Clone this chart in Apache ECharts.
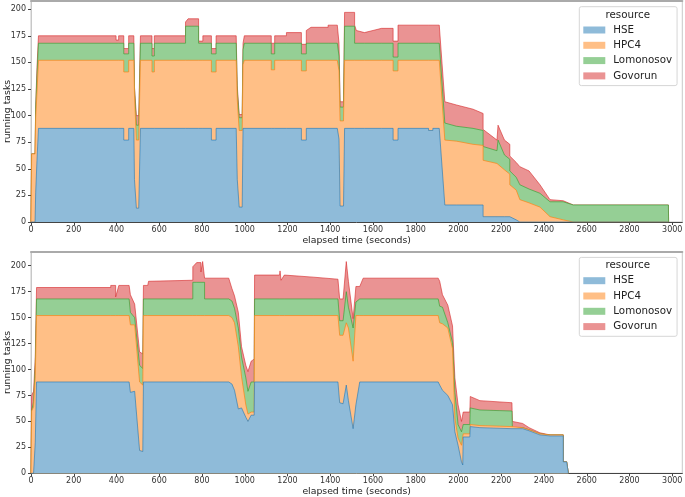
<!DOCTYPE html>
<html><head><meta charset="utf-8">
<script src="https://cdn.jsdelivr.net/npm/echarts@6/dist/echarts.min.js"></script>
<style>html,body{margin:0;padding:0;background:#fff}#c{width:685px;height:497px}</style>
</head><body><div id="c"></div>
<script>
const resources = ['HSE', 'HPC4', 'Lomonosov', 'Govorun'];
const legendTitle = 'resource';
const xLabel = 'elapsed time (seconds)';
const yLabel = 'running tasks';
const xInterval = 200;
const yInterval = 25;

// ---- upper chart (running tasks per resource) ----
const topTime = [0,3,19,22,28,35,398,398,410,410,
  434,434,457,457,481,484,491,493,504,512,
  566,566,577,577,723,723,735,784,784,804,
  804,844,844,866,866,960,965,972,974,988,
  992,998,1124,1124,1140,1140,1195,1195,1265,1265,
  1288,1288,1310,1390,1390,1433,1441,1446,1462,1467,
  1514,1514,1522,1560,1600,1640,1694,1694,1717,1717,
  1860,1860,1880,1880,1910,1936,1990,2068,2115,2115,
  2180,2185,2215,2240,2240,2270,2287,2330,2381,2428,
  2490,2537,2982,2983];
const topHSE = [0,0,0,28,58,88,88,88,88,88,
  88,77,77,88,88,40,40,13,13,88,
  88,88,88,88,88,88,88,88,88,88,
  88,88,77,77,88,88,40,40,14,14,
  88,88,88,88,88,88,88,88,88,77,
  77,88,88,88,88,88,78,15,15,88,
  88,88,88,88,88,88,88,77,77,88,
  88,86,86,88,88,16,16,16,16,5,
  5,5,5,5,5,2,0,0,0,0,
  0,0,0,0];
const topHPC4 = [0,64,64,70,64,64,64,64,64,64,
  64,64,64,64,64,80,80,64,64,64,
  64,53,53,64,64,64,64,64,64,64,
  64,64,64,64,64,64,75,75,72,72,
  60,64,64,55,55,64,64,64,64,65,
  65,64,64,64,64,64,64,80,80,64,
  64,64,64,64,64,64,64,65,65,64,
  64,66,66,64,64,61,60,57,56,53,
  50,50,44,40,30,28,21,18,14,5,
  2,0,0,0];
const topLomonosov = [0,0,0,10,16,16,16,16,16,16,
  16,17,17,16,16,6,6,14,14,16,
  16,15,15,16,16,32,32,32,16,16,
  16,16,17,17,16,16,8,8,12,12,
  14,16,16,15,15,16,16,16,16,16,
  16,16,16,16,16,16,14,13,13,32,
  32,16,16,16,16,16,16,13,13,16,
  16,16,16,16,16,16,14,15,14,13,
  12,22,14,14,13,12,14,13,13,14,
  17,16,16,0];
const topGovorun = [0,0,0,2,7,7,7,3,3,7,
  7,5,5,7,7,1,1,9,9,7,
  7,7,7,7,7,4,7,7,2,2,
  7,7,5,5,7,7,5,5,3,3,
  6,7,7,10,10,7,7,10,10,9,
  9,12,15,15,17,17,12,5,5,13,
  13,17,12,10,12,14,14,15,15,17,
  17,17,17,17,17,20,20,18,16,16,
  10,14,14,14,14,14,17,17,8,2,
  1,0,0,0];

// ---- lower chart ----
const botTime = [0,3,12,20,26,373,373,396,396,404,
  411,459,465,485,508,523,526,546,550,757,
  757,775,795,795,803,803,812,812,925,940,
  952,970,985,1005,1015,1030,1044,1046,1163,1165,
  1170,1185,1320,1436,1444,1460,1475,1485,1507,1520,
  1538,1554,1905,1912,1925,1950,1972,1983,1998,2014,
  2020,2022,2053,2055,2100,2250,2252,2300,2330,2381,
  2428,2490,2490,2506,2514];
const botHSE = [0,0,0,30,88,88,88,88,88,88,
  88,88,78,79,22,21,88,88,88,88,
  88,88,88,88,88,88,88,88,88,86,
  80,62,63,54,50,56,56,88,88,88,
  88,88,88,88,68,67,85,70,43,66,
  88,88,88,85,80,75,66,40,27,11,
  8,35,35,45,44,43,43,43,41,37,
  36,36,11,11,0];
const botHPC4 = [0,60,64,64,64,64,64,64,64,64,
  64,64,65,64,66,64,64,64,64,64,
  64,64,64,64,64,64,64,64,64,64,
  65,60,30,12,7,3,3,64,64,64,
  64,64,64,64,65,66,60,70,65,86,
  64,64,64,60,64,65,54,13,7,16,
  19,3,3,2,2,2,1,1,1,1,
  1,1,0,0,0];
const botLomonosov = [0,0,5,10,16,16,16,16,16,16,
  16,16,12,7,16,16,16,16,16,16,
  32,32,32,32,32,32,32,16,16,16,
  14,18,19,26,22,29,29,16,16,16,
  16,16,16,16,14,14,30,20,32,13,
  16,16,16,16,16,5,6,25,13,13,
  13,9,9,16,15,15,0,0,0,0,
  0,0,0,0,0];
const botGovorun = [0,15,10,8,11,11,13,13,2,2,
  13,13,17,13,13,14,13,13,17,18,
  15,19,19,10,10,20,20,20,20,12,
  12,15,10,12,19,20,22,23,23,27,
  18,23,21,19,21,21,29,25,9,15,
  12,20,20,24,12,17,16,14,19,10,
  10,12,12,11,9,8,6,4,2,1,
  0,0,0,0,0];

const fills = ['#8fbbd9', '#ffbf86', '#95cf95', '#ea9393'];
const edges = ['rgba(31,119,180,0.6)', 'rgba(255,127,14,0.65)', 'rgba(44,160,44,0.6)', 'rgba(214,39,40,0.6)'];
const FONT = 'DejaVu Sans';

const xMax = 3047;
const yMaxes = [207.7, 213.5];
const grids = [
  { left: 31, top: 1, width: 651.3, height: 221 },
  { left: 31, top: 251.7, width: 651.3, height: 221.6 }
];

// cumulative (stacked) values; areas are drawn top-down so lower layers cover upper fills
function makeSeries(idx, time, lists) {
  const cum = [];
  let run = time.map(() => 0);
  lists.forEach((vals) => {
    run = run.map((r, i) => r + vals[i]);
    cum.push(run.slice());
  });
  return resources.map((name, k) => ({
    name, type: 'line', xAxisIndex: idx, yAxisIndex: idx,
    data: time.map((t, i) => [t, cum[k][i]]), showSymbol: false, symbol: 'none',
    lineStyle: { color: edges[k], width: 1 },
    areaStyle: { color: fills[k], opacity: 1, origin: 'start' },
    itemStyle: { color: fills[k] },
    z: 10 - k,
    emphasis: { disabled: true }, animation: false
  }));
}

const xAxes = [], yAxes = [], legends = [], titles = [];
grids.forEach((g, i) => {
  xAxes.push({
    type: 'value', gridIndex: i, min: 0, max: xMax, interval: xInterval,
    axisLine: { show: true, onZero: false, lineStyle: { color: '#444', width: 1 } },
    axisTick: { show: true, length: 3, lineStyle: { color: '#444' } },
    axisLabel: { fontFamily: FONT, fontSize: 8, color: '#333', margin: 4, showMaxLabel: false,
      formatter: v => String(v) },
    splitLine: { show: false },
    name: xLabel, nameLocation: 'middle', nameGap: 14, nameMoveOverlap: false,
    nameTextStyle: { fontFamily: FONT, fontSize: 9.3, color: '#222' }
  });
  yAxes.push({
    type: 'value', gridIndex: i, min: 0, max: yMaxes[i], interval: yInterval,
    axisLine: { show: true, onZero: false, lineStyle: { color: '#c8c8c8', width: 1 } },
    axisTick: { show: true, length: 3, lineStyle: { color: '#444' } },
    axisLabel: { fontFamily: FONT, fontSize: 8, color: '#333', margin: 5, showMaxLabel: false,
      formatter: v => String(v) },
    splitLine: { show: false },
    name: yLabel, nameLocation: 'middle', nameGap: 19, nameMoveOverlap: false,
    nameTextStyle: { fontFamily: FONT, fontSize: 9.3, color: '#222' }
  });
  legends.push({
    data: resources, orient: 'vertical', left: 579.3, top: g.top + 5.7,
    itemWidth: 22, itemHeight: 7, itemGap: 3.3, icon: 'rect',
    padding: [17.3, 5, 3.7, 4],
    borderColor: '#d6d6d6', borderWidth: 1, borderRadius: 2,
    backgroundColor: 'rgba(255,255,255,0.8)',
    selectedMode: false, z: 20,
    textStyle: { fontFamily: FONT, fontSize: 10.3, color: '#222', lineHeight: 12, padding: [0, 0, 0, 3] }
  });
  titles.push({
    text: legendTitle, left: 605.5, top: g.top + 8, padding: 0, z: 21,
    textStyle: { fontFamily: FONT, fontSize: 10.3, fontWeight: 'normal', color: '#222', lineHeight: 12 }
  });
});
// top spines
grids.forEach((g, i) => {
  xAxes.push({
    type: 'value', gridIndex: i, position: 'top', min: 0, max: xMax,
    axisLine: { show: true, onZero: false, lineStyle: { color: '#aaa', width: 2 } },
    axisTick: { show: false }, axisLabel: { show: false }, splitLine: { show: false }
  });
});

const chart = echarts.init(document.getElementById('c'), null, { renderer: 'canvas' });
chart.setOption({
  animation: false,
  backgroundColor: '#fff',
  title: titles,
  legend: legends,
  grid: grids.map(g => Object.assign({ show: true, borderColor: '#c8c8c8', borderWidth: 1,
    backgroundColor: 'transparent', containLabel: false, outerBoundsMode: 'none' }, g)),
  xAxis: xAxes,
  yAxis: yAxes,
  series: makeSeries(0, topTime, [topHSE, topHPC4, topLomonosov, topGovorun])
    .concat(makeSeries(1, botTime, [botHSE, botHPC4, botLomonosov, botGovorun]))
});
</script>
</body></html>
